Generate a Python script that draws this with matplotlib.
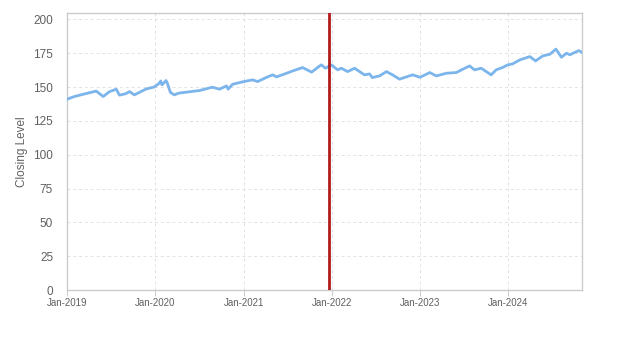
import matplotlib
matplotlib.use("Agg")
import matplotlib.pyplot as plt
import pandas as pd

dates = ["2019-01-01", "2019-02-01", "2019-03-17", "2019-05-02", "2019-05-31", "2019-06-25",
         "2019-07-24", "2019-08-06", "2019-08-31", "2019-09-17", "2019-10-07", "2019-11-25",
         "2019-12-28", "2020-01-18", "2020-01-24", "2020-01-29", "2020-02-15", "2020-02-20",
         "2020-03-04", "2020-03-20", "2020-04-08", "2020-05-22", "2020-07-02", "2020-08-25",
         "2020-09-23", "2020-10-22", "2020-10-29", "2020-11-16", "2021-01-01", "2021-02-07",
         "2021-02-28", "2021-04-06", "2021-05-01", "2021-05-17", "2021-06-28", "2021-07-23",
         "2021-09-02", "2021-10-09", "2021-11-18", "2021-12-06", "2021-12-30", "2022-01-25",
         "2022-02-09", "2022-03-07", "2022-04-05", "2022-05-16", "2022-06-06", "2022-06-17",
         "2022-07-17", "2022-08-15", "2022-09-09", "2022-10-08", "2022-12-01", "2023-01-01",
         "2023-02-10", "2023-03-09", "2023-04-20", "2023-05-31", "2023-06-26", "2023-07-25",
         "2023-08-14", "2023-09-11", "2023-10-02", "2023-10-22", "2023-11-12", "2023-12-08",
         "2023-12-30", "2024-01-19", "2024-02-17", "2024-03-30", "2024-04-23", "2024-05-23",
         "2024-06-21", "2024-07-16", "2024-08-08", "2024-08-29", "2024-09-12", "2024-10-03",
         "2024-10-20", "2024-10-30"]
closing = [141, 143, 145, 147, 143, 146.5,
           148.4, 144, 145, 146.6, 144.2, 148.6,
           150, 152.8, 154.5, 151.6, 154.8, 153,
           146, 144.2, 145.5, 146.5, 147.4, 149.9,
           148.4, 150.8, 148.4, 152, 154, 155.3,
           154, 157.2, 159, 157.5, 160.2, 161.9,
           164.4, 161, 166.4, 163.9, 166.4, 162.7,
           163.9, 161.4, 163.9, 159, 159.7, 157,
           158.2, 161.4, 159, 155.8, 159, 157.2,
           160.7, 158.2, 160.2, 160.7, 163.1, 165.6,
           162.7, 163.9, 161.4, 159, 162.7, 164.4,
           166.4, 167.1, 170, 172.5, 169.3, 173,
           174.2, 178, 172, 175, 173.8, 175.7,
           176.9, 175.7]
event_date = "2021-12-20"
x_start, x_end = "2019-01-01", "2024-10-30"
y_ticks = [0, 25, 50, 75, 100, 125, 150, 175, 200]
x_tick_dates = ["2019-01-01", "2020-01-01", "2021-01-01", "2022-01-01", "2023-01-01", "2024-01-01"]
x_tick_labels = ["Jan-2019", "Jan-2020", "Jan-2021", "Jan-2022", "Jan-2023", "Jan-2024"]
y_label = "Closing Level"

plt.rcParams['font.family'] = ['Liberation Sans', 'DejaVu Sans']

fig = plt.figure(figsize=(6.23, 3.5), dpi=100)
ax = fig.add_axes([0.1075, 0.1714, 0.8259, 0.7926])

ax.plot(pd.to_datetime(dates), closing, color="#7cb5ec", lw=2.0, solid_joinstyle="round", zorder=3)
ax.axvline(pd.to_datetime(event_date), color="#b01c1c", lw=2, zorder=4)

ax.set_xlim(pd.to_datetime(x_start), pd.to_datetime(x_end))
ax.set_ylim(0, 205)
ax.set_yticks(y_ticks)
ax.set_xticks(pd.to_datetime(x_tick_dates))
ax.set_xticklabels(x_tick_labels)

ax.grid(True, color="#e2e2e2", linestyle=(0, (3, 3)), lw=0.7, zorder=0)
for s in ax.spines.values():
    s.set_color("#cccccc")
    s.set_linewidth(1)
ax.tick_params(axis="y", length=0, pad=10, labelsize=8.5, labelcolor="#606060")
ax.tick_params(axis="x", length=4, color="#cccccc", pad=2, labelsize=7, labelcolor="#606060")
ax.set_ylabel(y_label, fontsize=8.5, color="#606060", labelpad=4)

fig.savefig("out.png", dpi=100, facecolor="white")
